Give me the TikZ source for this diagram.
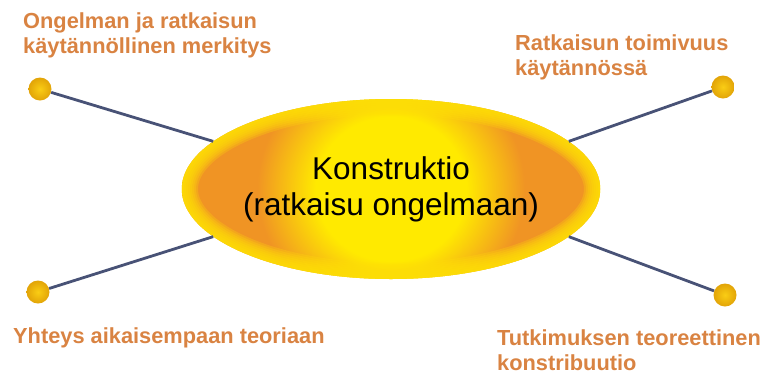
\documentclass[tikz,border=0pt]{standalone}
\usepackage{fontspec}
\setmainfont{Liberation Sans}
\usetikzlibrary{shapes.geometric}
\definecolor{hubyellow}{RGB}{255,234,0}
\definecolor{huborange}{RGB}{240,148,36}
\definecolor{rimyellow}{RGB}{255,224,6}
\definecolor{pinyellow}{RGB}{250,205,20}
\definecolor{pinrim}{RGB}{226,164,8}
\definecolor{spokeblue}{RGB}{72,82,118}
\definecolor{lblorange}{RGB}{217,131,66}
\pgfdeclareradialshading{hubglow}{\pgfpoint{0bp}{0bp}}{color(0bp)=(hubyellow); color(9bp)=(hubyellow); color(16bp)=(huborange); color(25bp)=(huborange); color(50bp)=(huborange)}

\begin{document}
\begin{tikzpicture}[x=1pt,y=-1pt,
  pin/.style={circle,minimum size=23pt,inner sep=0pt,inner color=pinyellow,outer color=pinrim},
  spoke/.style={draw=spokeblue,line width=2.8pt},
  lbl/.style={anchor=north west,inner sep=0pt,align=left,text=lblorange,font=\fontsize{21.8}{25}\selectfont\bfseries}]
\useasboundingbox (0,0) rectangle (763,376);
\node[ellipse,minimum width=414pt,minimum height=180pt,inner sep=0pt,align=center,font=\fontsize{31.5}{36}\selectfont,
  path picture={\shade[shading=hubglow] (path picture bounding box.center) ellipse [x radius=209pt,y radius=200pt];
    \foreach \w in {32,28,...,4}{\draw[rimyellow,line width=\w pt,opacity=.25] (path picture bounding box.center) ellipse [x radius=209pt,y radius=90pt];}}]
  (hub) at (391,189) {Konstruktio\\(ratkaisu ongelmaan)};
\foreach \n/\x/\y in {tl/40/89,tr/723/87,bl/38/292,br/725/295}{\node[pin] (\n) at (\x,\y) {};}
\foreach \n/\a in {tl/165,tr/15,bl/195,br/-15}{\draw[spoke] (\n) -- (hub.\a);}
\node[lbl] (lbltl) at (23,12) {Ongelman ja ratkaisun\\käytännöllinen merkitys};
\node[lbl] (lbltr) at (515,34) {Ratkaisun toimivuus\\käytännössä};
\node[lbl] (lblbl) at (13,327) {Yhteys aikaisempaan teoriaan};
\node[lbl] (lblbr) at (497,329) {Tutkimuksen teoreettinen\\konstribuutio};
\end{tikzpicture}
\end{document}
